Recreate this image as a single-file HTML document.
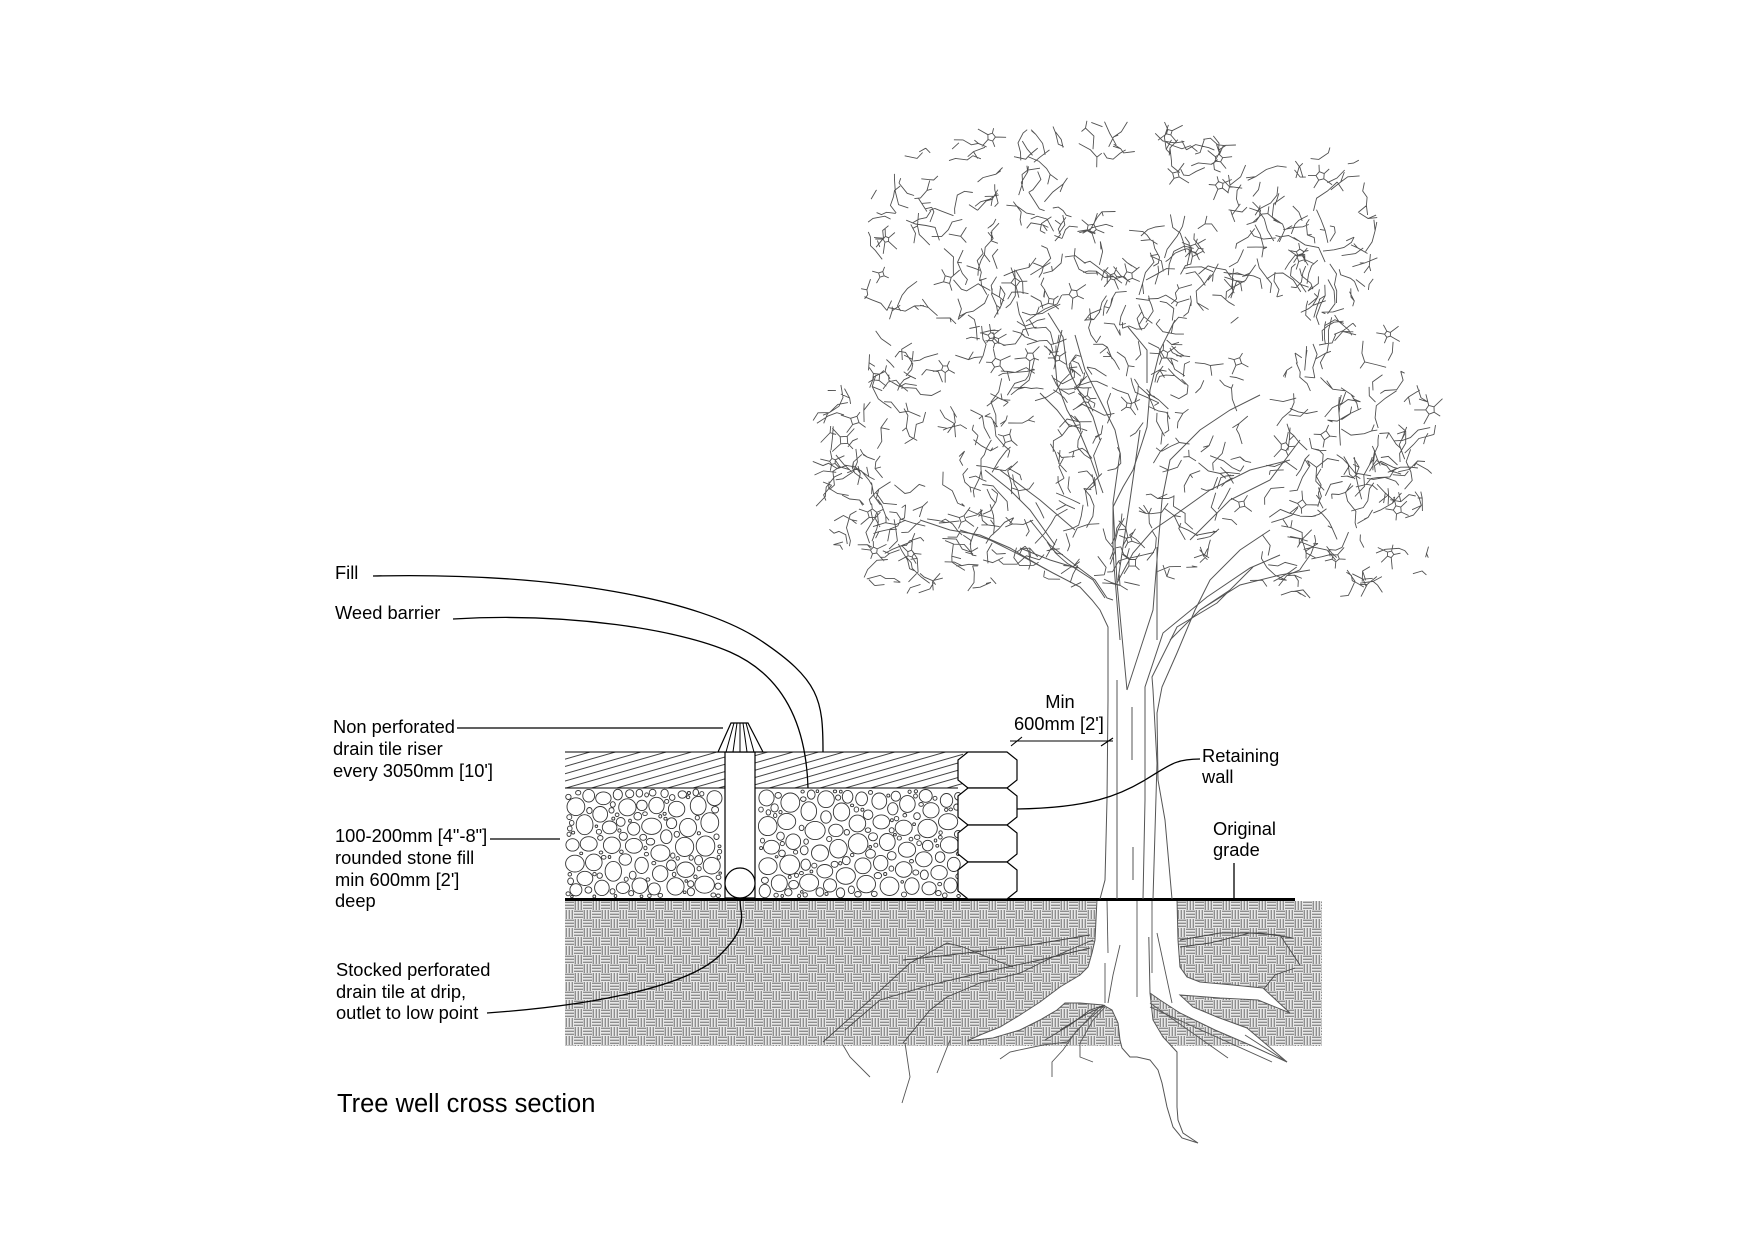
<!DOCTYPE html>
<html><head><meta charset="utf-8">
<style>
html,body{margin:0;padding:0;background:#fff;}
body{width:1755px;height:1240px;overflow:hidden;position:relative;}
svg{position:absolute;left:0;top:0;}
text{font-family:"Liberation Sans",Arial,sans-serif;font-size:18.3px;fill:#000;}
</style></head><body>
<svg id="s" width="1755" height="1240" viewBox="0 0 1755 1240" xmlns="http://www.w3.org/2000/svg">
<defs>
<pattern id="weave" x="565" y="901" width="18" height="18" patternUnits="userSpaceOnUse">
  <rect width="18" height="18" fill="#fff"/>
  <g fill="#8e8e8e">
    <rect x="0" y="0.5" width="9" height="1.7"/><rect x="0" y="3.5" width="9" height="1.7"/><rect x="0" y="6.5" width="9" height="1.7"/>
    <rect x="9" y="9.5" width="9" height="1.7"/><rect x="9" y="12.5" width="9" height="1.7"/><rect x="9" y="15.5" width="9" height="1.7"/>
    <rect x="9.5" y="0" width="1.7" height="9"/><rect x="12.5" y="0" width="1.7" height="9"/><rect x="15.5" y="0" width="1.7" height="9"/>
    <rect x="0.5" y="9" width="1.7" height="9"/><rect x="3.5" y="9" width="1.7" height="9"/><rect x="6.5" y="9" width="1.7" height="9"/>
  </g>
</pattern>
<pattern id="fillh" width="40" height="7" patternUnits="userSpaceOnUse" patternTransform="rotate(-16)">
  <line x1="0" y1="3.5" x2="40" y2="3.5" stroke="#444" stroke-width="0.9"/>
</pattern>
</defs>

<!-- Fill layer hatch -->
<rect x="565" y="752" width="398" height="36" fill="url(#fillh)"/>
<!-- Stones -->
<g id="stones" fill="#fff" stroke="#333" stroke-width="0.9"></g>

<!-- Soil -->
<rect x="565" y="901" width="757" height="145" fill="url(#weave)"/>

<!-- thin roots inside soil -->
<g fill="none" stroke="#444" stroke-width="0.9">
  <path d="M823 1042 L870 1000 L910 963 L947 943 L963 947 L987 957 L1013 967"/>
  <path d="M903 1043 L930 1010 L947 997 L980 983 L1020 973 L1053 957 L1093 940"/>
  <path d="M845 1030 L880 1000 L930 985 L980 973 L1040 960 L1090 948"/>
  <path d="M903 960 L950 955 L990 950 L1030 945 L1090 935"/>
  <path d="M1180 947 L1210 943 L1250 933 L1280 935 L1300 965"/>
  <path d="M1180 940 L1220 933 L1260 933 L1293 938"/>
  <path d="M1263 990 L1275 975 L1295 968"/>
  <path d="M1045 1040 L1070 1025 L1090 1010 L1105 1005"/>
  <path d="M1060 1030 L1085 1015 L1105 1005"/>
</g>

<!-- White root shapes -->
<g fill="#fff" stroke="#555" stroke-width="1">
  <path d="M1097 899 L1095 940 L1092 953 L1088 967 L1080 975 L1060 987 L1040 1002 L1020 1015 L1000 1027 L980 1035 L967 1041 L993 1038 L1020 1030 L1040 1020 L1057 1010 L1065 1003 L1080 1003 L1103 1005 L1112 1010 L1118 1023 L1120 1040 L1122 1048 L1130 1057 L1137 1057 L1150 1060 L1158 1070 L1162 1083 L1167 1107 L1173 1127 L1182 1138 L1198 1143 L1183 1133 L1178 1120 L1177 1107 L1177 1052 L1163 1037 L1153 1020 L1150 993 L1150 899 Z"/>
  <path d="M1148 899 L1177 899 L1178 940 L1180 967 L1187 977 L1200 982 L1233 985 L1263 988 L1290 1013 L1258 1000 L1220 998 L1180 995 L1193 1007 L1217 1017 L1247 1028 L1287 1062 L1250 1045 L1215 1030 L1180 1013 L1160 1000 L1150 993 Z"/>
</g>
<rect x="1098" y="897" width="78" height="40" fill="#fff"/>

<!-- roots below soil and trunk lines below ground -->
<g fill="none" stroke="#555" stroke-width="0.9">
  <path d="M843 1045 L850 1057 L870 1077"/>
  <path d="M905 1043 L910 1077 L902 1103"/>
  <path d="M950 1040 L937 1073"/>
  <path d="M1000 1059 L1010 1052 L1043 1045 L1067 1042 L1100 1006"/>
  <path d="M1052 1077 L1052 1062 L1063 1050 L1077 1030 L1105 1005"/>
  <path d="M1093 1062 L1080 1057 L1080 1043 L1093 1020 L1105 1007"/>
  <path d="M1150 1003 L1228 1058"/>
  <path d="M1150 1007 L1272 1062"/>
  <path d="M1245 1035 L1287 1062"/>
  <path d="M1107 900 L1108 953"/>
  <path d="M1105 963 L1105 1003"/>
  <path d="M1120 945 L1113 975 L1108 1003"/>
  <path d="M1137 900 L1137 997"/>
  <path d="M1152 900 L1152 973"/>
  <path d="M1157 933 L1172 1003"/>
</g>

<!-- Grade line -->
<line x1="565" y1="899.5" x2="1295" y2="899.5" stroke="#000" stroke-width="3"/>

<!-- Layer lines -->
<line x1="565" y1="752" x2="968" y2="752" stroke="#000" stroke-width="1.1"/>
<line x1="565" y1="788" x2="958" y2="788" stroke="#000" stroke-width="1.1"/>

<!-- Riser pipe -->
<rect x="725" y="752" width="30" height="146" fill="#fff" stroke="#000" stroke-width="1.2"/>
<circle cx="740" cy="883" r="15" fill="#fff" stroke="#000" stroke-width="1.2"/>
<polygon points="731,723 748,723 763,752 718,752" fill="#fff" stroke="#000" stroke-width="1.2"/>
<g stroke="#000" stroke-width="1">
  <line x1="734" y1="723" x2="726" y2="752"/>
  <line x1="737" y1="723" x2="733" y2="752"/>
  <line x1="740" y1="723" x2="740" y2="752"/>
  <line x1="743" y1="723" x2="747" y2="752"/>
  <line x1="746" y1="723" x2="754" y2="752"/>
</g>

<!-- Retaining wall blocks -->
<g fill="#fff" stroke="#000" stroke-width="1.2">
  <polygon points="968,752 1007,752 1017,760 1017,780 1007,788 968,788 958,780 958,760"/>
  <polygon points="968,788 1007,788 1017,796 1017,817 1007,825 968,825 958,817 958,796"/>
  <polygon points="968,825 1007,825 1017,833 1017,854 1007,862 968,862 958,854 958,833"/>
  <polygon points="968,862 1007,862 1017,870 1017,891 1007,899 968,899 958,891 958,870"/>
</g>

<!-- Tree trunk & branches -->
<g fill="none" stroke="#555" stroke-width="1">
  <path d="M1100 899 L1105 880 L1107 800 L1108 700 L1108 627 L1100 610 L1092 600 L1080 587 L1053 573 L1020 555 L990 540 L960 530"/>
  <path d="M1117 899 L1117 760 L1117 680"/>
  <path d="M1132 707 L1132 760 M1133 847 L1133 880"/>
  <path d="M1143 899 L1145 800 L1145 687 L1163 633 L1207 597 L1250 568 L1280 555"/>
  <path d="M1153 899 L1157 763 L1153 690 L1152 677 L1177 627 L1217 603 L1253 567"/>
  <path d="M1172 899 L1165 820 L1158 780 L1157 713 L1162 687 L1177 653 L1195 610 L1210 580 L1240 550 L1270 530"/>
  <path d="M1113 600 L1107 598 L1095 580 L1075 565 L1050 545 L1030 520"/>
  <path d="M1105 598 L1093 580 L1073 567 L1050 560 L1020 548"/>
  <path d="M1127 690 L1117 583 L1113 503 L1120 453 L1115 430 L1100 400 L1085 370 L1075 335"/>
  <path d="M1127 690 L1153 610 L1158 547 L1162 500 L1170 460 L1200 430 L1230 410 L1260 395"/>
  <path d="M1117 583 L1133 553 L1153 530 L1175 515 L1210 490 L1250 470 L1290 460"/>
  <path d="M1140 430 L1130 500 L1118 580"/>
  <path d="M1103 493 L1090 457 L1080 433 L1067 410 L1057 383 L1055 360 L1062 330"/>
  <path d="M1120 640 L1113 553 L1113 507 L1123 487 L1133 470 L1142 443 L1147 427 L1150 390 L1160 350 L1175 320"/>
  <path d="M1048 313 L1063 337 L1067 367 L1080 393 L1093 417 L1100 440"/>
  <path d="M1128 327 L1147 350 L1147 383"/>
  <path d="M1040 393 L1057 410 L1070 427"/>
  <path d="M1157 640 L1157 547"/>
  <path d="M1170 640 L1200 610 L1230 590"/>
  <path d="M1047 570 L1010 548 L980 535 L950 530 L920 520"/>
  <path d="M1055 545 L1030 510 L1010 490 L985 470"/>
  <path d="M1200 610 L1240 585 L1280 575 L1310 570"/>
  <path d="M1190 540 L1230 500 L1270 480 L1300 440"/>
  <path d="M1000 470 L1040 500 L1075 530"/>
</g>
<g id="canopy" fill="none" stroke="#505050" stroke-width="0.9"></g>

<!-- Dimension -->
<g stroke="#000" stroke-width="1.1">
  <line x1="1010" y1="741" x2="1113" y2="741"/>
  <line x1="1011" y1="746" x2="1022" y2="737"/>
  <line x1="1101" y1="746" x2="1113" y2="738"/>
</g>

<!-- Leaders -->
<g fill="none" stroke="#000" stroke-width="1.3">
  <path d="M373 576 C 560 572, 700 600, 760 640 S 823 700, 823 752"/>
  <path d="M453 619 C 570 612, 680 630, 730 652 S 806 720, 808 788"/>
  <line x1="457" y1="728" x2="723" y2="728"/>
  <line x1="490" y1="839" x2="560" y2="839"/>
  <path d="M487 1013 C 600 1005, 690 985, 720 955 S 740 915, 740 900"/>
  <path d="M1017 809 C 1090 808, 1120 795, 1145 780 S 1175 759, 1200 759"/>
  <line x1="1234" y1="863" x2="1234" y2="898"/>
</g>

<!-- Labels -->
<text x="335" y="579">Fill</text>
<text x="335" y="619">Weed barrier</text>
<text x="333" y="733">Non perforated</text>
<text x="333" y="755">drain tile riser</text>
<text x="333" y="777">every 3050mm [10']</text>
<text x="335" y="842">100-200mm [4"-8"]</text>
<text x="335" y="864">rounded stone fill</text>
<text x="335" y="886">min 600mm [2']</text>
<text x="335" y="907">deep</text>
<text x="336" y="976">Stocked perforated</text>
<text x="336" y="998">drain tile at drip,</text>
<text x="336" y="1019">outlet to low point</text>
<text x="1060" y="708" text-anchor="middle">Min</text>
<text x="1014" y="730">600mm [2']</text>
<text x="1202" y="762">Retaining</text>
<text x="1202" y="783">wall</text>
<text x="1213" y="835">Original</text>
<text x="1213" y="856">grade</text>
<text x="337" y="1112" style="font-size:25.5px">Tree well cross section</text>
</svg>
<script>
(function(){
  var NS="http://www.w3.org/2000/svg";
  var seed=987654321;
  function rnd(){seed|=0;seed=seed+0x6D2B79F5|0;var t=Math.imul(seed^seed>>>15,1|seed);t=t+Math.imul(t^t>>>7,61|t)^t;return((t^t>>>14)>>>0)/4294967296;}
  // Stones
  var sg=document.getElementById('stones');
  var cs=[];
  var radii=[9,8,7,6.2,5.4,4.6,3.8,3,2.4,1.9,1.5];
  for(var ri=0;ri<radii.length;ri++){
    for(var t=0;t<1400;t++){
      var rr=radii[ri]*(0.85+rnd()*0.3);
      var x=566+rnd()*396, y=789+rnd()*110;
      if(x-rr<565.5||x+rr>962||y-rr<789||y+rr>898)continue;
      if(x+rr>722&&x-rr<758)continue;
      var ok=true;
      for(var k=0;k<cs.length;k++){var c=cs[k];var dx=c[0]-x,dy=c[1]-y;var m=c[2]+rr+0.5;if(dx*dx+dy*dy<m*m){ok=false;break;}}
      if(!ok)continue;
      cs.push([x,y,rr]);
      var e=document.createElementNS(NS,'ellipse');
      var asp=0.82+rnd()*0.18;
      if(rnd()<0.5){e.setAttribute('rx',rr.toFixed(1));e.setAttribute('ry',(rr*asp).toFixed(1));}
      else{e.setAttribute('rx',(rr*asp).toFixed(1));e.setAttribute('ry',rr.toFixed(1));}
      e.setAttribute('cx',x.toFixed(1));e.setAttribute('cy',y.toFixed(1));
      sg.appendChild(e);
    }
  }
  // Canopy
  var g=document.getElementById('canopy');
  var E=[[1110,220,215,100],[960,232,95,95],[905,285,45,65],[915,462,112,122],[1110,420,165,175],[1345,452,90,135],[1340,560,95,45],[930,568,85,36],[1318,232,65,95]];
  var V=[];
  for(var q=0;q<26;q++){V.push([820+rnd()*600,140+rnd()*450,12+rnd()*22]);}
  function inC(x,y){
    for(var i=0;i<E.length;i++){var e=E[i];var dx=(x-e[0])/e[2],dy=(y-e[1])/e[3];if(dx*dx+dy*dy<1)return true;}
    return false;}
  function inV(x,y){for(var i=0;i<V.length;i++){var v=V[i];var dx=x-v[0],dy=y-v[1];if(dx*dx+dy*dy<v[2]*v[2])return true;}return false;}
  var d="";
  function f(v){return v.toFixed(1);}
  for(var n=0;n<640;n++){
    var x,y,tries=0;
    do{x=795+rnd()*650;y=112+rnd()*500;tries++;}while((!inC(x,y)||inV(x,y))&&tries<300);
    var a=rnd()*Math.PI*2;
    var kk=2+Math.floor(rnd()*3);
    d+="M"+f(x)+" "+f(y);
    var pts=[[x,y]];
    for(var j=0;j<kk;j++){a+=(rnd()-0.5)*2.2;var L=5+rnd()*9;var nx=x+Math.cos(a)*L,ny=y+Math.sin(a)*L;if(!inC(nx,ny))break;x=nx;y=ny;d+="L"+f(x)+" "+f(y);pts.push([x,y]);}
    if(pts.length>1&&rnd()<0.55){var p=pts[1+Math.floor(rnd()*(pts.length-1))];var b=rnd()*Math.PI*2;var L2=4+rnd()*7;d+="M"+f(p[0])+" "+f(p[1])+"L"+f(p[0]+Math.cos(b)*L2)+" "+f(p[1]+Math.sin(b)*L2);}
  }
  for(n=0;n<48;n++){
    var cx,cy,tr=0;
    do{cx=800+rnd()*640;cy=120+rnd()*490;tr++;}while((!inC(cx,cy)||inV(cx,cy))&&tr<300);
    var nv=4+Math.floor(rnd()*2),r0=3+rnd()*2,a0=rnd()*6.28,poly=[];
    for(var v=0;v<nv;v++){var aa=a0+v*6.283/nv;poly.push([cx+Math.cos(aa)*r0,cy+Math.sin(aa)*r0]);}
    d+="M"+f(poly[0][0])+" "+f(poly[0][1]);
    for(v=1;v<nv;v++)d+="L"+f(poly[v][0])+" "+f(poly[v][1]);
    d+="Z";
    for(v=0;v<nv;v++){var aa2=a0+v*6.283/nv+(rnd()-0.5)*0.5;var L3=5+rnd()*7;d+="M"+f(poly[v][0])+" "+f(poly[v][1])+"L"+f(poly[v][0]+Math.cos(aa2)*L3)+" "+f(poly[v][1]+Math.sin(aa2)*L3);}
  }
  var path=document.createElementNS(NS,'path');
  path.setAttribute('d',d);
  g.appendChild(path);
})();
</script>
</body></html>
